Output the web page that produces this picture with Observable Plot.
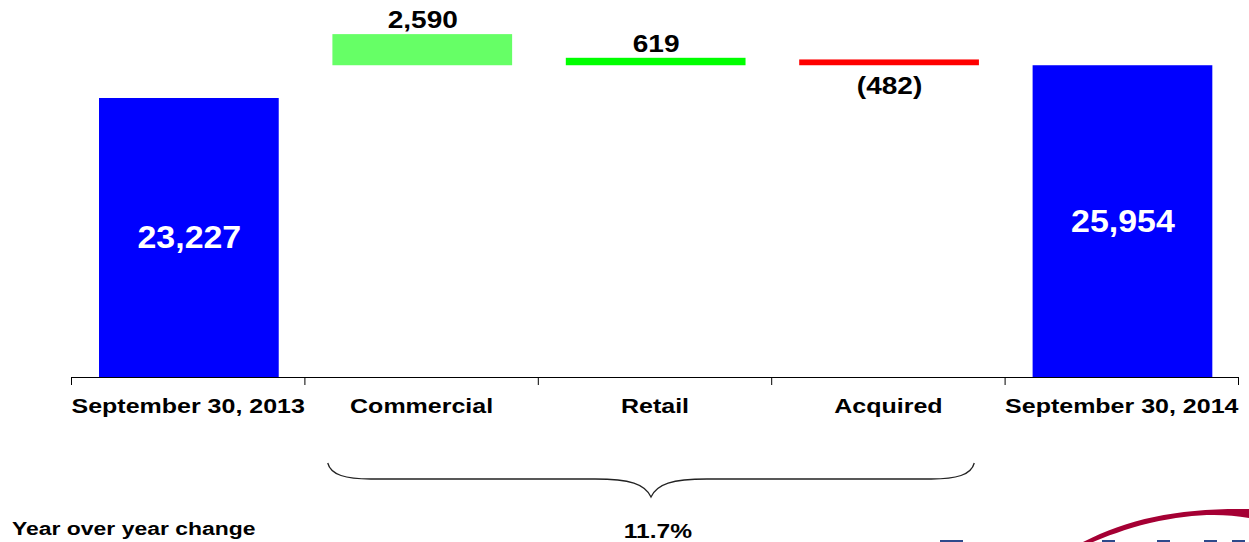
<!DOCTYPE html>
<html>
<head>
<meta charset="utf-8">
<script src="https://cdn.jsdelivr.net/npm/d3@7"></script>
<script src="https://cdn.jsdelivr.net/npm/@observablehq/plot@0.6"></script>
<style>
  html, body { margin: 0; padding: 0; background: #fff; }
  #chart { width: 1249px; height: 542px; overflow: hidden; }
</style>
</head>
<body>
<div id="chart"></div>
<script>
// ---- data ----
const categories = ["September 30, 2013", "Commercial", "Retail", "Acquired", "September 30, 2014"];
const values = [23227, 2590, 619, -482, 25954];
const kinds = ["total", "delta", "delta", "delta", "total"];
// floating bars sit on the closing level, as drawn in the reference
const bases = [0, 25954, 25954, 25954, 0];
const colors = ["#0000FF", "#66FF66", "#00FF00", "#FF0000", "#0000FF"];
const yoyLabel = "Year over year change";
const yoyValue = "11.7%";

const fmt = d3.format(",");
const rows = categories.map((c, i) => ({
  i, category: c, value: values[i], kind: kinds[i],
  y1: bases[i], y2: bases[i] + Math.abs(values[i]),
  color: colors[i],
  label: values[i] < 0 ? `(${fmt(-values[i])})` : fmt(values[i])
}));
const totals = rows.filter(d => d.kind === "total");
const ups = rows.filter(d => d.kind === "delta" && d.value >= 0);
const downs = rows.filter(d => d.kind === "delta" && d.value < 0);

const FONT = "'Liberation Sans', Arial, Helvetica, sans-serif";

const plot = Plot.plot({
  width: 1249,
  height: 542,
  marginTop: 0,
  marginBottom: 165,
  marginLeft: 71,
  marginRight: 11,
  x: {domain: [0, categories.length], axis: null},
  y: {domain: [0, 31385], axis: null},
  color: {type: "identity"},
  style: {fontFamily: FONT, background: "white", overflow: "visible"},
  marks: [
    Plot.rect(rows, {x1: d => d.i + 0.12, x2: d => d.i + 0.89, y1: "y1", y2: "y2", fill: "color"}),
    Plot.ruleY([0], {stroke: "#000", strokeWidth: 1.2}),
    Plot.axisX({ticks: d3.range(categories.length + 1), tickSize: 8, tickFormat: () => "", stroke: "#000"}),
    Plot.text(rows, {x: d => d.i + 0.5, y: 0, text: "category", lineAnchor: "top", dy: 21,
      fontSize: 21, fontWeight: "bold", fill: "#000", ariaDescription: "cat"}),
    Plot.text(totals, {x: d => d.i + 0.505, y: d => d.value / 2, text: "label", lineAnchor: "middle",
      fontSize: 32, fontWeight: "bold", fill: "#fff", ariaDescription: "tot"}),
    Plot.text(ups, {x: d => d.i + 0.505, y: "y2", text: "label", lineAnchor: "middle", dy: -14,
      fontSize: 23, fontWeight: "bold", fill: "#000", ariaDescription: "delta"}),
    Plot.text(downs, {x: d => d.i + 0.505, y: "y1", text: "label", lineAnchor: "middle", dy: 21,
      fontSize: 23, fontWeight: "bold", fill: "#000", ariaDescription: "delta"})
  ]
});

document.getElementById("chart").appendChild(plot);

// ---- annotations below the axis ----
const xs = plot.scale("x");
const svg = d3.select(plot);
const bx0 = xs.apply(1.1), bx1 = xs.apply(3.87), bm = (bx0 + bx1) / 2;
const yTop = 463, yMid = 479, yTip = 497;
svg.append("path")
  .attr("d", `M${bx0},${yTop} C${bx0 + 3},${yMid - 4} ${bx0 + 18},${yMid} ${bx0 + 43},${yMid}
              L${bm - 56},${yMid} C${bm - 21},${yMid} ${bm - 6},${yMid + 5} ${bm},${yTip}
              C${bm + 6},${yMid + 5} ${bm + 21},${yMid} ${bm + 56},${yMid}
              L${bx1 - 43},${yMid} C${bx1 - 18},${yMid} ${bx1 - 3},${yMid - 4} ${bx1},${yTop}`)
  .attr("fill", "none").attr("stroke", "#222").attr("stroke-width", 1.3);

svg.append("text").attr("class", "yoy")
  .attr("x", 12).attr("y", 535).attr("text-anchor", "start")
  .attr("font-family", FONT).attr("font-weight", "bold").attr("font-size", 18.5)
  .attr("fill", "#000").text(yoyLabel);
svg.append("text").attr("class", "pct")
  .attr("x", bm + 7).attr("y", 538).attr("text-anchor", "middle")
  .attr("font-family", FONT).attr("font-weight", "bold").attr("font-size", 21)
  .attr("fill", "#000").text(yoyValue);

// partial logo in the corner
svg.append("path")
  .attr("d", "M1083,542 C1130,518 1180,508 1249,509 L1249,518 C1220,513 1190,514 1150,523 C1125,529 1105,537 1093,542 Z")
  .attr("fill", "#A50034");
const logoMarks = [[940, 23], [1102, 13], [1157, 13], [1204, 13], [1232, 13]];
svg.append("g").selectAll("rect").data(logoMarks).join("rect")
  .attr("x", d => d[0]).attr("y", 540).attr("width", d => d[1]).attr("height", 2)
  .attr("fill", "#2E4A8C");

// horizontal stretch of the slide lettering: wrap each text in a scaled group
function stretch(sel, k, anchor) {
  svg.selectAll(sel).each(function() {
    const g = document.createElementNS("http://www.w3.org/2000/svg", "g");
    this.parentNode.insertBefore(g, this);
    g.appendChild(this);
    const b = g.getBBox();
    const ax = anchor === "start" ? b.x : b.x + b.width / 2;
    g.setAttribute("transform", `translate(${ax},0) scale(${k},1) translate(${-ax},0)`);
  });
}
stretch('g[aria-description="cat"] text', 1.19, "middle");
stretch('g[aria-description="delta"] text', 1.22, "middle");
stretch('g[aria-description="tot"] text', 1.06, "middle");
stretch('text.yoy', 1.24, "start");
stretch('text.pct', 1.17, "middle");
</script>
</body>
</html>
